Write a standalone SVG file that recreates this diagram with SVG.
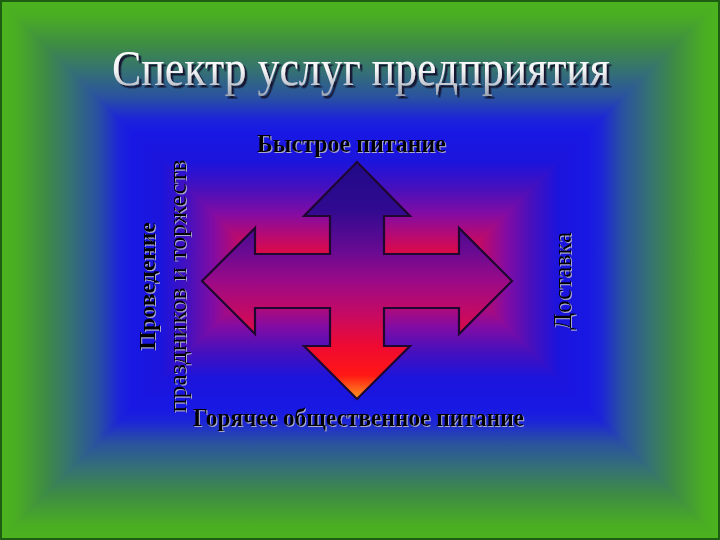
<svg xmlns="http://www.w3.org/2000/svg" width="720" height="540" viewBox="0 0 720 540">
  <defs>
    <linearGradient id="bgStops">
      <stop offset="0" stop-color="#4cb41e"/>
      <stop offset="0.055" stop-color="#4aae22"/>
      <stop offset="0.167" stop-color="#3e8c44"/>
      <stop offset="0.26" stop-color="#357272"/>
      <stop offset="0.36" stop-color="#2a52a0"/>
      <stop offset="0.44" stop-color="#1c24d8"/>
      <stop offset="0.49" stop-color="#1818e4"/>
      <stop offset="0.6" stop-color="#1c14dc"/>
      <stop offset="0.7" stop-color="#4810bc"/>
      <stop offset="0.79" stop-color="#820ca4"/>
      <stop offset="0.89" stop-color="#c20a66"/>
      <stop offset="0.96" stop-color="#e80a3a"/>
      <stop offset="1" stop-color="#f40a2c"/>
    </linearGradient>
    <linearGradient id="bgV" href="#bgStops" gradientUnits="userSpaceOnUse" x1="0" y1="0" x2="0" y2="270" spreadMethod="reflect"/>
    <linearGradient id="bgL" href="#bgStops" gradientUnits="userSpaceOnUse" x1="0" y1="0" x2="270" y2="0"/>
    <linearGradient id="bgR" href="#bgStops" gradientUnits="userSpaceOnUse" x1="720" y1="0" x2="450" y2="0"/>
    <linearGradient id="arrowFill" gradientUnits="userSpaceOnUse" x1="0" y1="162" x2="0" y2="399">
      <stop offset="0" stop-color="#200a88"/>
      <stop offset="0.2" stop-color="#300a90"/>
      <stop offset="0.38" stop-color="#6a0a92"/>
      <stop offset="0.5" stop-color="#9a0a88"/>
      <stop offset="0.65" stop-color="#c80a60"/>
      <stop offset="0.78" stop-color="#f00a30"/>
      <stop offset="0.9" stop-color="#ff1814"/>
      <stop offset="1" stop-color="#ff9a20"/>
    </linearGradient>
    <linearGradient id="titleFill" x1="0" y1="0" x2="0" y2="1">
      <stop offset="0" stop-color="#ffffff"/>
      <stop offset="0.55" stop-color="#f4f4f6"/>
      <stop offset="1" stop-color="#9aa2b2"/>
    </linearGradient>
    <filter id="lightShadow" x="-10%" y="-10%" width="120%" height="120%">
      <feDropShadow dx="1" dy="1" stdDeviation="0" flood-color="#a8a8d0" flood-opacity="1"/>
    </filter>
    <filter id="darkShadow" x="-5%" y="-20%" width="110%" height="140%">
      <feDropShadow dx="2.5" dy="2.5" stdDeviation="0.6" flood-color="#141430" flood-opacity="1"/>
    </filter>
  </defs>
  <style>
    .label { font-family: "Liberation Serif", "Times New Roman", serif; font-size: 25px; fill: #000000; }
    .bold { font-weight: bold; }
    .title { font-family: "Liberation Serif", "Times New Roman", serif; font-size: 50px; fill: url(#titleFill); }
  </style>

  <g id="background">
    <rect x="0" y="0" width="720" height="540" fill="url(#bgV)"/>
    <polygon points="0,0 270,270 0,540" fill="url(#bgL)"/>
    <polygon points="720,0 450,270 720,540" fill="url(#bgR)"/>
    <rect x="1" y="1" width="718" height="538" fill="none" stroke="#1e5e12" stroke-width="2"/>
  </g>

  <g id="title" filter="url(#darkShadow)">
    <text class="title" x="361" y="85" text-anchor="middle" textLength="498" lengthAdjust="spacingAndGlyphs">Спектр услуг предприятия</text>
  </g>

  <g id="arrow">
    <path d="M357,162 L410,216 L384,216 L384,254 L459,254 L459,228 L512,281 L459,334 L459,308 L384,308 L384,346 L410,346 L357,399 L304,346 L330,346 L330,308 L255,308 L255,334 L202,281 L255,228 L255,254 L330,254 L330,216 L304,216 Z" fill="url(#arrowFill)" stroke="#1e0830" stroke-width="2.2" stroke-linejoin="miter"/>
  </g>

  <g id="label-top" filter="url(#lightShadow)">
    <text class="label bold" x="257" y="152" textLength="189" lengthAdjust="spacingAndGlyphs">Быстрое питание</text>
  </g>

  <g id="label-bottom" filter="url(#lightShadow)">
    <text class="label bold" x="193" y="426" textLength="331" lengthAdjust="spacingAndGlyphs">Горячее общественное питание</text>
  </g>

  <g id="label-left" filter="url(#lightShadow)">
    <text class="label bold" transform="translate(155,286) rotate(-90)" x="0" y="0" text-anchor="middle" textLength="128" lengthAdjust="spacingAndGlyphs" style="font-size:24px">Проведение</text>
    <text class="label" transform="translate(186,286) rotate(-90)" x="0" y="0" text-anchor="middle" textLength="253" lengthAdjust="spacingAndGlyphs">праздников и торжеств</text>
  </g>

  <g id="label-right" filter="url(#lightShadow)">
    <text class="label" transform="translate(571,281) rotate(-90)" x="0" y="0" text-anchor="middle" textLength="98" lengthAdjust="spacingAndGlyphs">Доставка</text>
  </g>
</svg>
